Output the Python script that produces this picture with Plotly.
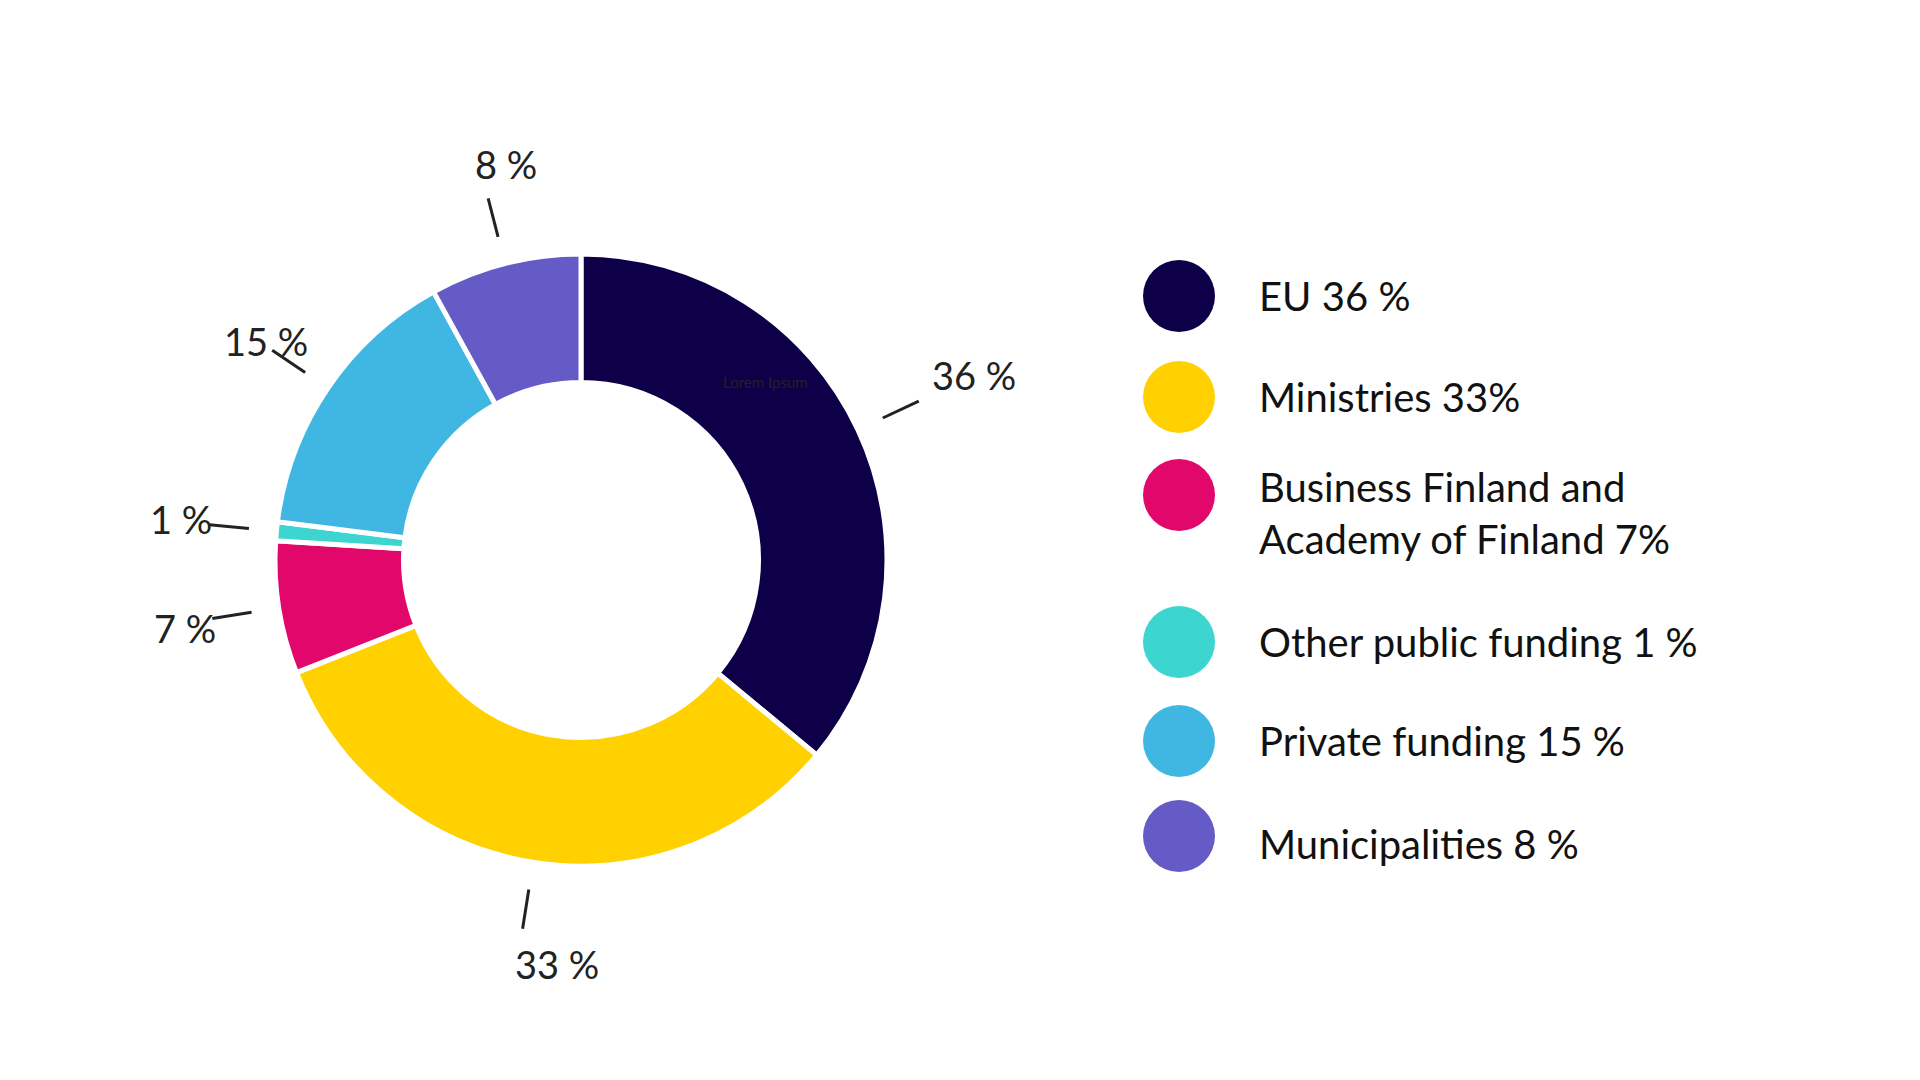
# Donut chart: sources of funding
import math
import plotly.graph_objects as go

W, H = 1920, 1080

labels = ['EU', 'Ministries', 'Business Finland and Academy of Finland',
          'Other public funding', 'Private funding', 'Municipalities']
values = [36, 33, 7, 1, 15, 8]
slice_text = ['36 %', '33 %', '7 %', '1 %', '15 %', '8 %']
legend_text = ['EU 36 %', 'Ministries 33%', 'Business Finland and<br>Academy of Finland 7%',
               'Other public funding 1 %', 'Private funding 15 %', 'Municipalities 8 %']
colors = ['#0e0048', '#ffd100', '#e2076a', '#3cd5cf', '#40b7e3', '#655bc6']

# donut geometry in pixels
cx, cy, R = 573, 552, 306


def px(x, y):
    return x / W, 1 - y / H


fig = go.Figure(go.Pie(
    labels=labels, values=values, sort=False, direction='clockwise', rotation=0,
    hole=0.58, textinfo='none', hoverinfo='label+percent',
    marker=dict(colors=colors, line=dict(color='white', width=5)),
    domain=dict(x=[(cx - R) / W, (cx + R) / W], y=[1 - (cy + R) / H, 1 - (cy - R) / H]),
    showlegend=False,
))

shapes, annotations = [], []
total = sum(values)
acc = 0
for v, t in zip(values, slice_text):
    mid = (acc + v / 2) / total * 2 * math.pi
    acc += v
    dx, dy = math.sin(mid), -math.cos(mid)
    x0, y0 = px(cx + dx * R * 1.09, cy + dy * R * 1.09)
    x1, y1 = px(cx + dx * R * 1.22, cy + dy * R * 1.22)
    shapes.append(dict(type='line', xref='paper', yref='paper', x0=x0, y0=y0, x1=x1, y1=y1,
                       line=dict(color='#222222', width=3)))
    tx, ty = px(cx + dx * R * 1.42, cy + dy * R * 1.42)
    annotations.append(dict(x=tx, y=ty, xref='paper', yref='paper', text=t, showarrow=False,
                            font=dict(size=38, color='#222222')))

# custom legend with big circles
legend_y = [288, 389, 487, 634, 733, 828]
text_y = [288, 389, 505, 634, 733, 836]
for c, lt, ly, ty in zip(colors, legend_text, legend_y, text_y):
    x0, y0 = px(1171 - 36, ly + 36)
    x1, y1 = px(1171 + 36, ly - 36)
    shapes.append(dict(type='circle', xref='paper', yref='paper', x0=x0, y0=y0, x1=x1, y1=y1,
                       fillcolor=c, line=dict(width=0)))
    tx, tyy = px(1249, ty)
    annotations.append(dict(x=tx, y=tyy, xref='paper', yref='paper', text=lt, showarrow=False,
                            xanchor='left', yanchor='middle', align='left',
                            font=dict(size=40, color='#111111')))

lx, ly = px(757, 374)
annotations.append(dict(x=lx, y=ly, xref='paper', yref='paper', text='Lorem Ipsum',
                        showarrow=False, font=dict(size=15, color='#222222')))

fig.update_layout(
    width=W, height=H, margin=dict(l=0, r=0, t=0, b=0),
    paper_bgcolor='white', plot_bgcolor='white',
    font=dict(family='Lato, Open Sans, sans-serif'),
    shapes=shapes, annotations=annotations,
)
fig.write_html('out.html')
